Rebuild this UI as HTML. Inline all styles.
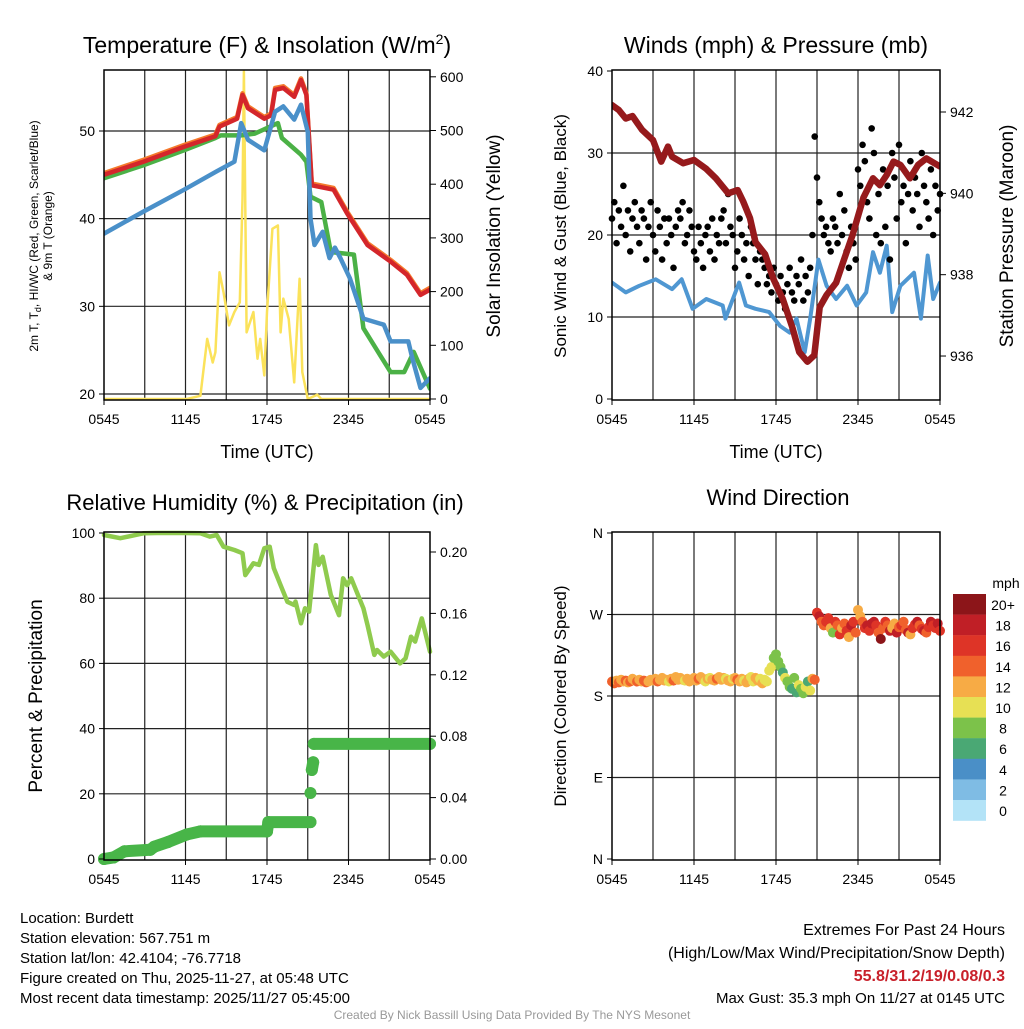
<!DOCTYPE html>
<html><head><meta charset="utf-8"><style>
body{margin:0;background:#fff;width:1024px;height:1024px;overflow:hidden}
svg text{font-family:"Liberation Sans",sans-serif}
</style></head><body>
<svg id="c" width="1024" height="1024" viewBox="0 0 1024 1024" xmlns="http://www.w3.org/2000/svg">
<defs>
<clipPath id="cp0"><rect x="104" y="70" width="326" height="330"/></clipPath>
<clipPath id="cp1"><rect x="612" y="70" width="328" height="330"/></clipPath>
<clipPath id="cp2"><rect x="98" y="526" width="338" height="340"/></clipPath>
<clipPath id="cp3"><rect x="606" y="526" width="340" height="340"/></clipPath>
</defs>
</svg>
<script>
// ---- Panel 1 data (hours since 0545 UTC) ----
const tRedH=[0,2.9,5.9,8.2,8.5,9.8,10.2,10.6,11.8,12.3,12.6,13.2,14,14.5,14.9,15.3,16.9,17.9,19.4,21.1,22.3,23.3,24];
const tRedV=[45,46.5,48.2,49.4,50.5,51.4,54.1,52.6,51.4,51.8,54.7,54.9,53.9,55.8,54.1,43.8,43.3,40.6,37,35.1,33.6,31.3,31.9];
const tGrnH=[0,2.9,5.9,8.2,8.6,10.1,11.1,12.8,13.1,14.5,14.9,15.2,16,16.7,18.4,19.1,21.1,22.1,22.8,24];
const tGrnV=[44.6,46.1,47.8,49.2,49.5,49.5,49.7,50.9,49.2,47.3,46.5,42.5,41.9,36.2,35.9,27.5,22.5,22.5,24.8,20.6];
const tBluH=[0,2.9,5.9,8.3,9.6,10.1,10.6,11.8,12.6,13.2,14,14.5,15,15.2,15.5,16.1,16.6,17,17.4,18.1,19.1,20.6,21.1,22.4,22.7,23.3,24];
const tBluV=[38.3,40.8,43.3,45.4,46.5,50.9,49,47.8,52.2,52.8,51.3,53,49.9,40,37,38.5,35.5,36.7,35.5,33.2,28.6,27.9,26,26,24.1,20.7,21.8];
const solH=[0,6.1,7.1,7.6,8.0,8.2,8.5,8.8,9.2,9.6,10.0,10.2,10.3,10.5,11.0,11.3,11.5,11.8,12.0,12.4,12.8,13.0,13.2,13.6,14.0,14.4,14.6,15.0,15.7,16.0,24];
const solV=[0,0,6,112,68,87,236,199,137,162,180,373,610,124,162,75,112,44,162,317,323,124,187,149,31,224,50,0,8,0,0];
// ---- Panel 2 data ----
const presH=[0,0.5,1,1.5,2.2,3,3.6,4.1,4.4,5.2,6,6.9,7.6,8.5,9.2,9.6,10.1,10.5,11.2,11.8,12.5,13.2,13.7,14.3,14.8,15.2,15.7,16.4,16.9,17.6,18.4,19.1,19.6,20.1,20.6,21.1,21.8,22.4,23.0,24];
const presV=[942.17,942.05,941.84,941.9,941.56,941.31,940.78,941.15,940.9,940.74,940.82,940.6,940.37,940.0,940.08,939.8,939.39,938.8,938.5,937.9,937.4,936.7,936.1,935.86,936.02,937.2,937.5,937.8,938.3,938.97,939.9,940.37,940.2,940.45,940.78,940.7,940.37,940.7,940.86,940.66];
const windH=[0,1,2,3.2,4.4,5.1,5.9,6.9,8.1,8.3,9.3,9.8,10.5,11.5,12.3,13,13.5,14.1,14.5,15.1,15.7,16.4,17.2,17.9,18.6,19.1,19.6,20.1,20.5,21.1,22.1,22.6,23.1,23.5,24];
const windV=[14.2,13,13.8,14.6,13.4,14.6,11,12.2,11.4,9.8,14.2,11.4,11,10.6,8.9,8.1,9.8,5.7,9.8,17,13.8,12.2,13.8,11.4,13,17.9,15.4,18.7,10.6,13.8,15.4,9.8,17.5,12.2,14.2];
const gustV=[22,24,19,23,21,26,20,23,18,22,24,21,19,23,22,17,21,24,20,18,23,21,17,22,19,22,20,16,21,23,22,24,19,20,23,21,18,17,21,19,16,20,21,18,22,17,20,19,22,23,19,25,21,20,16,18,22,20,17,19,15,21,19,17,14,18,17,16,14,15,13,16,14,12,15,13,11,14,16,13,12,15,14,17,12,15,13,16,20,32,27,24,22,20,21,19,18,22,21,19,25,20,23,18,16,21,19,17,28,26,31,29,24,22,33,30,20,25,19,28,21,26,17,30,27,22,31,24,26,19,25,29,23,27,25,21,30,26,24,22,28,20,26,23,25];
// ---- Panel 3 data ----
const rhH=[0,1.2,2.9,3.9,5.9,7.1,7.8,8.3,8.8,9.6,10.2,10.4,11.0,11.4,11.8,12.2,12.5,13,13.5,14,14.1,14.5,14.8,15.1,15.6,15.8,16.1,16.7,17.3,17.6,17.9,18.2,19.1,19.4,19.9,20.1,20.6,21.1,21.8,22.2,22.6,22.9,23.4,24];
const rhV=[99.4,98.4,99.9,100,100,99.9,98.9,99.4,95.8,94.8,93.8,87.1,90.7,90.2,95.3,95.8,89.2,84,78.9,77.9,79,72.3,76.9,75.9,96.3,90.2,92.7,81,74.8,86.1,84,86.1,76.9,71.8,62.6,64.1,62.1,63.6,60,61.6,68.2,66.7,73.8,63.6];
const prH=[0,0.7,1.5,3.4,3.7,4.7,6.1,7.1,12.0,12.1,15.2,15.2,15.3,15.4,15.45,24];
const prV=[0,0.001,0.005,0.006,0.008,0.011,0.016,0.018,0.018,0.024,0.024,0.043,0.058,0.063,0.075,0.075];
// ---- Panel 4 data (10-min samples) ----
const dirV=[196,194,197,195,198,196,197,195,196,199,197,196,198,196,197,195,196,198,197,199,196,198,200,197,198,196,199,197,201,198,200,198,197,199,196,198,200,197,199,201,198,196,199,200,198,197,199,201,198,200,199,197,196,199,200,198,196,199,197,195,199,201,196,200,197,199,194,198,196,
208,212,222,226,218,212,206,200,
196,190,188,200,184,192,188,183,190,196,186,199,
198,
272,268,262,258,262,266,255,250,262,258,248,255,260,252,245,258,262,250,275,268,262,255,258,252,260,262,258,250,243,255,262,258,252,255,260,250,256,258,262,253,250,248,255,259,262,258,254,252,250,256,262,258,255,260,252];
const spdV=[14,14,13,14,13,12,14,13,14,12,13,14,12,13,14,15,12,13,12,13,14,12,13,12,13,11,12,14,12,13,12,13,11,12,13,12,12,13,14,12,13,11,12,11,13,12,14,12,13,12,11,12,13,11,12,14,13,12,11,13,12,11,10,12,13,11,12,11,10,
11,10,9,8,8,9,7,10,
9,8,6,9,7,10,8,9,10,6,11,12,
15,
16,18,15,14,17,16,12,9,16,14,17,13,15,16,12,18,17,14,13,12,14,17,19,16,18,19,17,15,20,14,16,15,18,12,13,19,15,16,14,15,18,12,17,16,19,15,16,18,14,17,19,16,17,18,16];
const cbLabels=["20+","18","16","14","12","10","8","6","4","2","0"];
const cbColors=["#8c1519","#c01f26","#de3427","#f0612c","#f7ab45","#e7e054","#7cc24a","#4aa874","#4a8fc7","#7fbce4","#b3e3f7"];
const xTickLabels=["0545","1145","1745","2345","0545"];

const NS="http://www.w3.org/2000/svg", svg=document.getElementById('c');
function mk(tag,a,parent){const e=document.createElementNS(NS,tag);for(const k in a)e.setAttribute(k,a[k]);(parent||svg).appendChild(e);return e;}
function txt(s,x,y,size,anchor,extra){const e=mk('text',Object.assign({x:x,y:y,'font-size':size,'text-anchor':anchor||'middle',fill:'#000'},extra||{}));e.textContent=s;return e;}
function colorFor(s){const i=Math.min(10,Math.floor(s/2));return cbColors[10-i];}

const P=[{x0:104,x1:430,y0:70,y1:400,cp:'url(#cp0)'},{x0:612,x1:940,y0:70,y1:400,cp:'url(#cp1)'},{x0:104,x1:430,y0:532,y1:860,cp:'url(#cp2)'},{x0:612,x1:940,y0:532,y1:860,cp:'url(#cp3)'}];
function X(p,h){return p.x0+h*(p.x1-p.x0)/24;}
const y1L=v=>394-(v-20)*8.767, y1R=s=>399-s*0.537;
const y2L=w=>399-w*8.2, y2R=p=>112-(p-942)*40.67;
const y3L=r=>859-r*3.26, y3R=p=>859-p*1535;
const y4=d=>859-d*0.9056;

function frame(p,hVals,yf,name){
  const g=mk('g',{});
  
  
  for(let h=3;h<24;h+=3) mk('line',{x1:X(p,h),x2:X(p,h),y1:p.y0,y2:p.y1,stroke:'#222','stroke-width':1.2},g);
  hVals.forEach(v=>mk('line',{x1:p.x0,x2:p.x1,y1:yf(v),y2:yf(v),stroke:'#222','stroke-width':1.2},g));
  xTickLabels.forEach((l,i)=>{
    const t=txt(l,X(p,i*6),p.y1+24,14);
    
    
    mk('line',{x1:X(p,i*6),x2:X(p,i*6),y1:p.y1,y2:p.y1+5,stroke:'#000'});
  });
}
function border(p,name){const r=mk('rect',{x:p.x0,y:p.y0,width:p.x1-p.x0,height:p.y1-p.y0,fill:'none',stroke:'#000','stroke-width':1.5});
  
  }
function line(p,H,V,yf,color,w,name){
  const pts=H.map((h,i)=>X(p,h).toFixed(1)+','+yf(V[i]).toFixed(1)).join(' ');
  const e=mk('polyline',{points:pts,fill:'none',stroke:color,'stroke-width':w,'stroke-linejoin':'round','stroke-linecap':'round','clip-path':p.cp});
  
  
}
function ticksL(p,vals,yf,fmt){vals.forEach(v=>{mk('line',{x1:p.x0-5,x2:p.x0,y1:yf(v),y2:yf(v),stroke:'#000'});
  const t=txt(fmt?fmt(v):String(v),p.x0-9,yf(v)+5,14,'end');
  
  });}
function ticksR(p,vals,yf,fmt){vals.forEach(v=>{mk('line',{x1:p.x1,x2:p.x1+6,y1:yf(v),y2:yf(v),stroke:'#000'});
  const t=txt(fmt?fmt(v):String(v),p.x1+10,yf(v)+5,14,'start');
  
  });}
function vtitle(s,x,y,size,name){const t=txt(s,x,y,size,'middle',{transform:'rotate(-90 '+x+' '+y+')'});
  
  return t;}

// ===== Panel 1 =====
let p=P[0];
frame(p,[20,30,40,50],y1L,'temp');
line(p,solH,solV,y1R,'#fbe25a',2.5,'solar-insolation-line');
line(p,tRedH,tRedV.map(v=>v+0.2),y1L,'#f57a2c',4.5,'temp-9m-line');
line(p,tGrnH,tGrnV,y1L,'#4bb146',4.5,'dewpoint-line');
line(p,tRedH,tRedV,y1L,'#d4262b',4.5,'temp-2m-line');
line(p,tBluH,tBluV,y1L,'#4a90c9',4.5,'heat-index-line');
border(p,'temp');
ticksL(p,[20,30,40,50],y1L);
ticksR(p,[0,100,200,300,400,500,600],y1R);
let t=txt('',267,53,23);t.innerHTML='Temperature (F) &amp; Insolation (W/m<tspan dy="-9" font-size="14">2</tspan><tspan dy="9">)</tspan>';


t=txt('Time (UTC)',267,458,18);
t=vtitle('',38,236,12,'temp-y-axis-title');t.innerHTML='2m T, T<tspan dy="3" font-size="9">d</tspan><tspan dy="-3">, HI/WC (Red, Green, Scarlet/Blue)</tspan>';
vtitle('& 9m T (Orange)',52,236,12,'temp-y-axis-title-2');
vtitle('Solar Insolation (Yellow)',500,236,19,'solar-y-axis-title');

// ===== Panel 2 =====
p=P[1];
frame(p,[10,20,30],y2L,'wind');
line(p,windH,windV,y2L,'#4f97d2',4,'sonic-wind-line');
const gg=mk('g',{});


gustV.forEach((v,i)=>{const h=i/6;const c=mk('circle',{cx:X(p,h),cy:y2L(v),r:3.3,fill:'#000'},gg);
  
  });
line(p,presH,presV,y2R,'#961a1c',6.5,'pressure-line');
border(p,'wind');
ticksL(p,[0,10,20,30,40],y2L);
ticksR(p,[936,938,940,942],y2R);
t=txt('Winds (mph) & Pressure (mb)',776,53,23);
t=txt('Time (UTC)',776,458,18);
vtitle('Sonic Wind & Gust (Blue, Black)',566,236,17,'wind-y-axis-title');
vtitle('Station Pressure (Maroon)',1013,236,19,'pressure-y-axis-title');

// ===== Panel 3 =====
p=P[2];
frame(p,[20,40,60,80],y3L,'rh');
line(p,rhH,rhV,y3L,'#8fcb4e',4.5,'rh-line');
const pg=mk('g',{'clip-path':p.cp});


for(let i=0;i<prH.length;i++){
  mk('circle',{cx:X(p,prH[i]),cy:y3R(prV[i]),r:6,fill:'#48b548'},pg);
  if(i>0 && Math.abs(prV[i]-prV[i-1])<0.008) mk('line',{x1:X(p,prH[i-1]),y1:y3R(prV[i-1]),x2:X(p,prH[i]),y2:y3R(prV[i]),stroke:'#48b548','stroke-width':12,'stroke-linecap':'round'},pg);
}
border(p,'rh');
ticksL(p,[0,20,40,60,80,100],y3L);
ticksR(p,[0,0.04,0.08,0.12,0.16,0.20],y3R,v=>v.toFixed(2));
t=txt('Relative Humidity (%) & Precipitation (in)',265,510,22);
vtitle('Percent & Precipitation',42,696,19,'rh-y-axis-title');

// ===== Panel 4 =====
p=P[3];
frame(p,[90,180,270],y4,'dir');
const dg=mk('g',{'clip-path':p.cp});


dirV.forEach((d,i)=>{const c=mk('circle',{cx:X(p,i/6),cy:y4(d),r:5,fill:colorFor(spdV[i])},dg);
  
  });
border(p,'dir');
ticksL(p,[0,90,180,270,360],y4,v=>({0:'N',90:'E',180:'S',270:'W',360:'N'})[v]);
t=txt('Wind Direction',778,505,22);
vtitle('Direction (Colored By Speed)',566,696,17,'direction-y-axis-title');
const cb=mk('g',{});


cbColors.forEach((c,i)=>{mk('rect',{x:953,y:594+i*20.6,width:33,height:20.8,fill:c},cb);
  const l=txt(cbLabels[i],1003,594+i*20.6+16,14,'middle');
  
  });
t=txt('mph',1006,588,14);

// ===== Footer text =====
const info=["Location: Burdett","Station elevation: 567.751 m","Station lat/lon: 42.4104; -76.7718","Figure created on Thu, 2025-11-27, at 05:48 UTC","Most recent data timestamp: 2025/11/27 05:45:00"];
info.forEach((s,i)=>{const e=txt(s,20,923+i*20,15,'start');});
t=txt('Extremes For Past 24 Hours',1005,935,16,'end');
t=txt('(High/Low/Max Wind/Precipitation/Snow Depth)',1005,958,16,'end');
t=txt('55.8/31.2/19/0.08/0.3',1005,981,16,'end',{fill:'#c8202a','font-weight':'bold'});
t=txt('Max Gust: 35.3 mph On 11/27 at 0145 UTC',1005,1003,15,'end');
t=txt('Created By Nick Bassill Using Data Provided By The NYS Mesonet',512,1019,12,'middle',{fill:'#999'});
</script>
</body></html>
